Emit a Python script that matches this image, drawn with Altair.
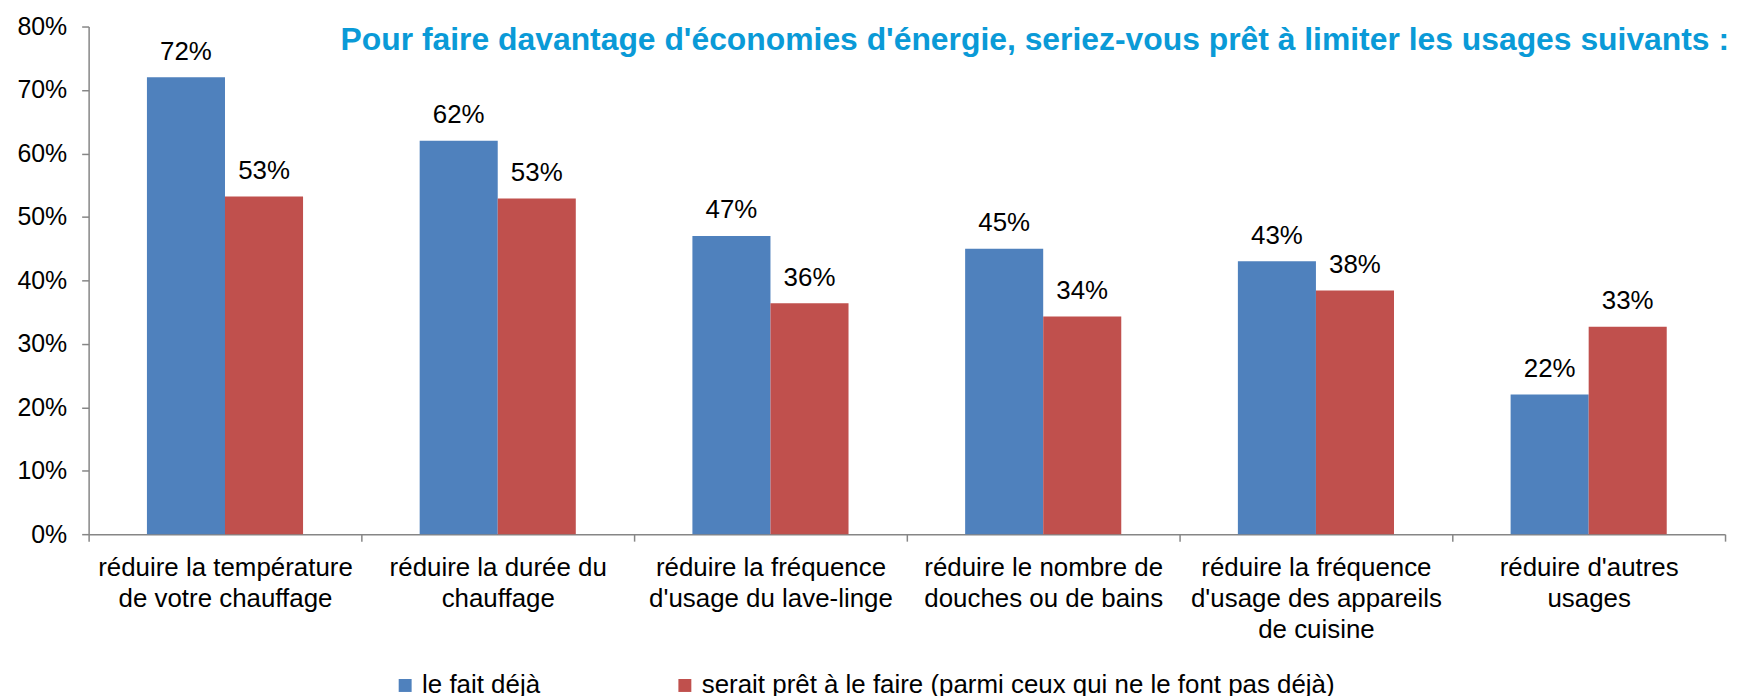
import altair as alt
import pandas as pd

categories = [
    "réduire la température|de votre chauffage",
    "réduire la durée du|chauffage",
    "réduire la fréquence|d'usage du lave-linge",
    "réduire le nombre de|douches ou de bains",
    "réduire la fréquence|d'usage des appareils|de cuisine",
    "réduire d'autres|usages",
]
fait_deja = [72.0, 62.0, 47.0, 45.0, 43.0, 22.0]
serait_pret = [53.2, 52.9, 36.4, 34.3, 38.4, 32.7]
series = ["le fait déjà", "serait prêt à le faire (parmi ceux qui ne le font pas déjà)"]
colors = ["#4F81BD", "#C0504D"]
title_text = ["Pour faire davantage d'économies d'énergie, seriez-vous prêt à limiter les usages suivants :"]

rows = []
for c, a, b in zip(categories, fait_deja, serait_pret):
    rows.append({"cat": c, "serie": series[0], "val": a})
    rows.append({"cat": c, "serie": series[1], "val": b})
df = pd.DataFrame(rows)

FONT = "Liberation Sans"
W, H = 1644, 510

base = alt.Chart(df).encode(
    x=alt.X("cat:N", sort=categories, title=None,
            scale=alt.Scale(paddingInner=0, paddingOuter=0),
            axis=alt.Axis(labelAngle=0, labelExpr="split(datum.label, '|')",
                          tickBand="extent", tickSize=7, labelPadding=14,
                          labelLineHeight=31, labelFontSize=26, labelLimit=400,
                          labelColor="#000000", domainColor="#868686",
                          tickColor="#868686", labelFont=FONT,
                          domainWidth=1.5, tickWidth=1.5)),
    xOffset=alt.XOffset("serie:N", sort=series,
                        scale=alt.Scale(paddingInner=0, paddingOuter=0.747)),
)

bars = base.mark_bar().encode(
    y=alt.Y("val:Q", title=None,
            scale=alt.Scale(domain=[0, 80], nice=False),
            axis=alt.Axis(values=[0, 10, 20, 30, 40, 50, 60, 70, 80],
                          labelExpr="datum.value + '%'", grid=False,
                          tickSize=7, labelPadding=15, labelFontSize=25,
                          labelColor="#000000", domainColor="#868686",
                          tickColor="#868686", labelFont=FONT,
                          domainWidth=1.5, tickWidth=1.5)),
    color=alt.Color("serie:N", sort=series,
                    scale=alt.Scale(domain=series, range=colors),
                    legend=alt.Legend(orient="none", legendX=305, legendY=649,
                                      direction="horizontal", title=None,
                                      symbolType="square", symbolSize=169,
                                      symbolStrokeWidth=0, labelFontSize=26,
                                      labelFont=FONT, labelColor="#000000",
                                      columnPadding=132, labelLimit=900,
                                      symbolOffset=0, labelOffset=4)),
)

labels = base.mark_text(baseline="alphabetic", dy=-17.7, fontSize=26, font=FONT,
                        color="#000000").transform_calculate(
    lab="round(datum.val) + '%'"
).encode(
    y=alt.Y("val:Q"),
    text="lab:N",
)

title = alt.Chart(pd.DataFrame({"t": title_text})).mark_text(
    align="right", baseline="alphabetic", fontSize=32, fontWeight="bold",
    font=FONT, color="#0A9AD7"
).encode(
    text="t:N",
    x=alt.value(W + 4),
    y=alt.value(23.3),
)

chart = alt.layer(bars, labels, title).properties(
    width=W, height=H,
    autosize=alt.AutoSizeParams(type="none"),
    padding={"left": 81, "top": 17, "right": 9, "bottom": 170},
).configure_view(stroke=None)

chart.save("out.html", embed_options={"renderer": "svg", "actions": False})
